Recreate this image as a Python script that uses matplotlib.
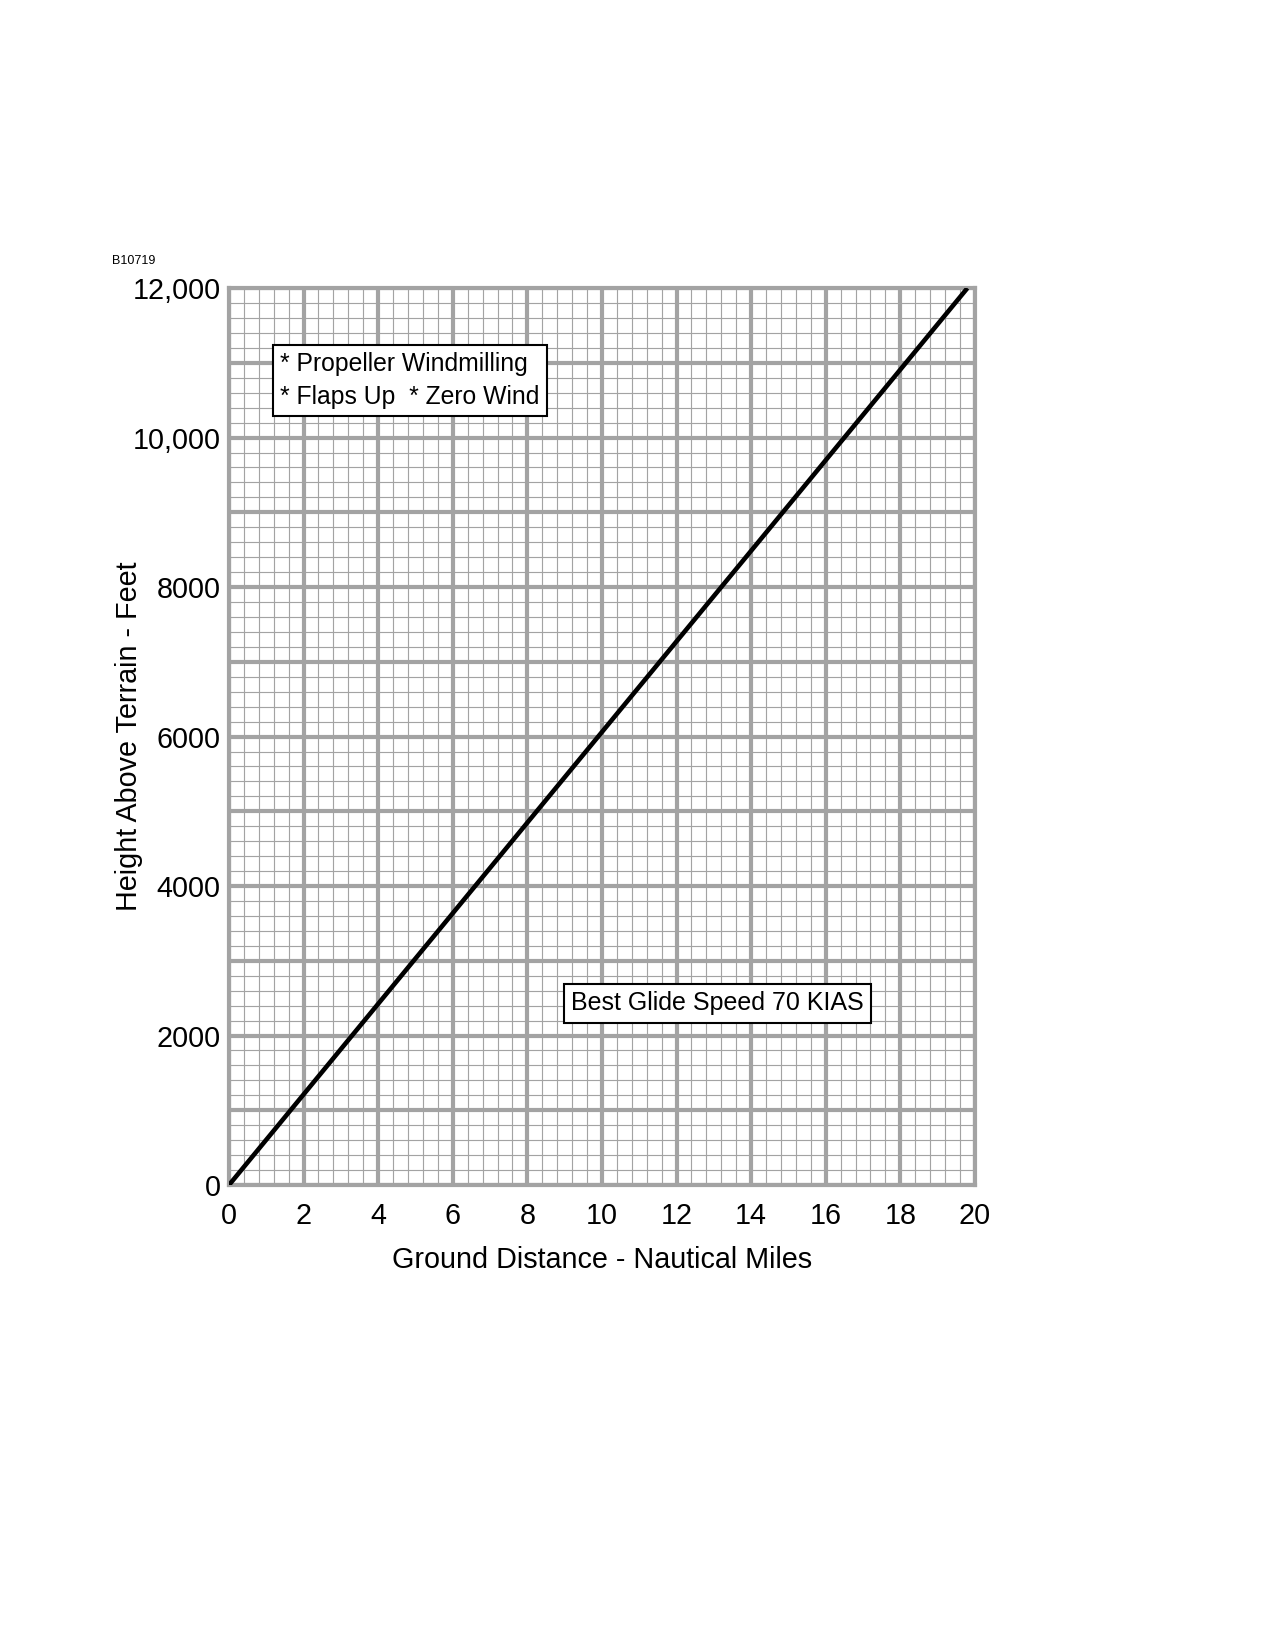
import matplotlib.pyplot as plt
import numpy as np

plt.rcParams['font.family'] = ['Liberation Sans', 'DejaVu Sans']

# glide line: ground distance (nm) vs height above terrain (ft)
distance_nm = [0, 19.8]
height_ft = [0, 12000]

x_ticks = list(range(0, 21, 2))
y_ticks = list(range(0, 12001, 1000))
y_tick_labels = ['0', '', '2000', '', '4000', '', '6000', '', '8000', '', '10,000', '', '12,000']

grid_gray = '#a3a3a3'

fig = plt.figure(figsize=(8.5, 11), dpi=150)
ax = fig.add_axes([0.1796, 0.2818, 0.585, 0.5436])

ax.plot(distance_nm, height_ft, color='black', lw=2.2, solid_capstyle='butt', zorder=5)

ax.set_xlim(0, 20)
ax.set_ylim(0, 12000)
ax.set_xticks(x_ticks)
ax.set_xticks(np.arange(0, 20.01, 0.4), minor=True)
ax.set_yticks(y_ticks)
ax.set_yticklabels(y_tick_labels)
ax.set_yticks(np.arange(0, 12001, 200), minor=True)

ax.grid(which='major', color=grid_gray, lw=2.0)
ax.grid(which='minor', color=grid_gray, lw=0.55)
ax.set_axisbelow(True)
ax.tick_params(which='both', length=0)
ax.tick_params(axis='x', labelsize=13.8, pad=8)
ax.tick_params(axis='y', labelsize=13.8, pad=4)
for s in ax.spines.values():
    s.set_color(grid_gray)
    s.set_linewidth(2.0)

ax.set_xlabel('Ground Distance - Nautical Miles', fontsize=13.8, labelpad=8)
ax.set_ylabel('Height Above Terrain - Feet', fontsize=13.8, labelpad=-5)

box = dict(boxstyle='square,pad=0.3', facecolor='white', edgecolor='black', lw=1.0)
ax.text(1.38, 10760, '* Propeller Windmilling\n* Flaps Up  * Zero Wind', fontsize=11.9,
        ha='left', va='center', linespacing=1.45, bbox=box, zorder=6)
ax.text(13.1, 2435, 'Best Glide Speed 70 KIAS', fontsize=12.0,
        ha='center', va='center', bbox=box, zorder=6)

fig.text(0.088, 0.842, 'B10719', fontsize=6, ha='left', va='center')

fig.savefig('out.png', dpi=150)
